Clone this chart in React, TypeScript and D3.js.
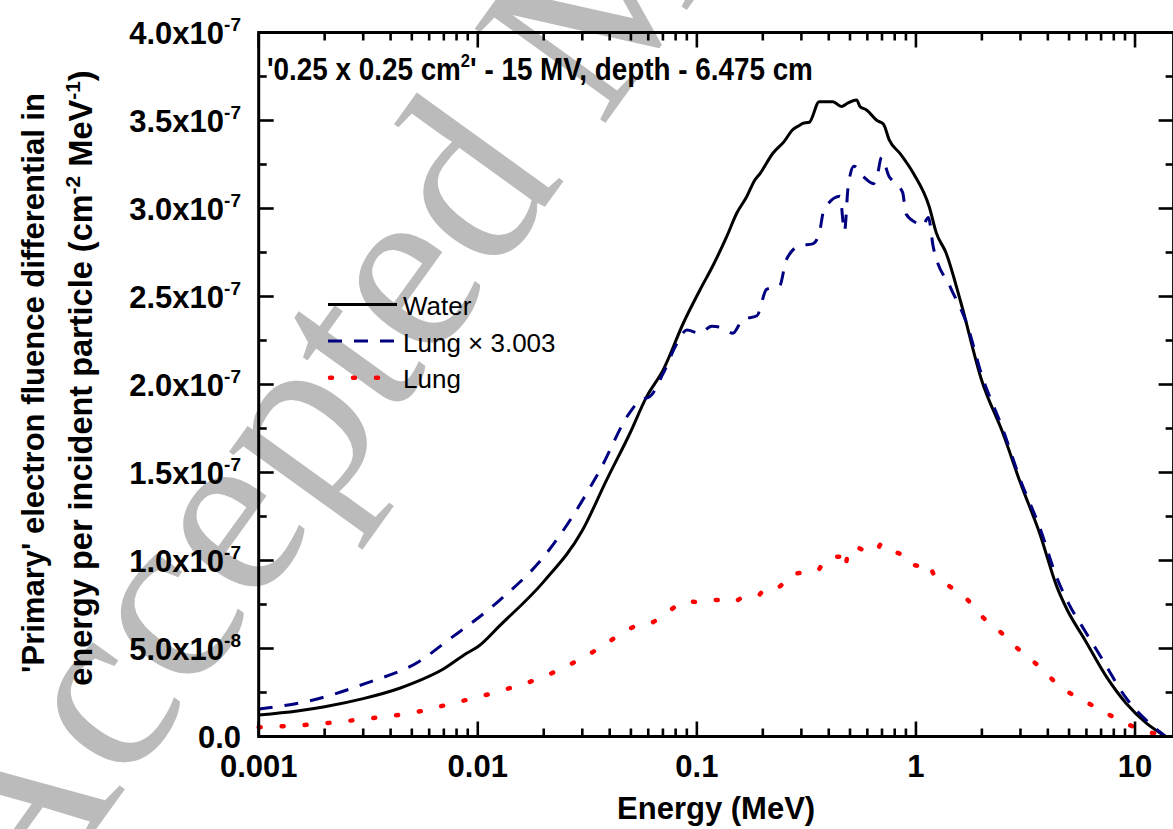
import React from 'react';
import * as d3 from 'd3';

// Water: energy (MeV) and fluence (x1e-7)
const waterEnergy = [0.001, 0.0015, 0.002, 0.003, 0.0044, 0.005, 0.007, 0.0089, 0.01, 0.0126, 0.02, 0.03, 0.0387, 0.0495, 0.059, 0.0702, 0.0867, 0.1033, 0.1188, 0.1368, 0.152, 0.1688, 0.184, 0.1946, 0.2223, 0.25, 0.273, 0.296, 0.304, 0.326, 0.362, 0.418, 0.457, 0.49, 0.536, 0.555, 0.595, 0.664, 0.71, 0.755, 0.849, 0.973, 1.15, 1.24, 1.37, 1.6, 2.0, 2.5, 3.0, 3.67, 4.4, 4.9, 5.9, 7.4, 9.1, 11.3, 13.8];
const waterFluence = [0.122, 0.145, 0.169, 0.215, 0.274, 0.30, 0.385, 0.473, 0.51, 0.63, 0.88, 1.17, 1.457, 1.723, 1.931, 2.083, 2.348, 2.537, 2.679, 2.84, 2.973, 3.067, 3.162, 3.2, 3.314, 3.38, 3.446, 3.474, 3.484, 3.49, 3.607, 3.607, 3.58, 3.6, 3.617, 3.58, 3.56, 3.5, 3.48, 3.39, 3.31, 3.2, 3.01, 2.86, 2.75, 2.47, 2.02, 1.72, 1.44, 1.155, 0.85, 0.72, 0.55, 0.34, 0.189, 0.075, 0.0];

// Lung: energy (MeV) and fluence (x1e-8)
const lungEnergy = [0.001, 0.00177, 0.0031, 0.0054, 0.0072, 0.0126, 0.02, 0.036, 0.0494, 0.055, 0.061, 0.07, 0.081, 0.09, 0.103, 0.117, 0.132, 0.146, 0.162, 0.188, 0.208, 0.239, 0.256, 0.296, 0.338, 0.362, 0.38, 0.45, 0.472, 0.49, 0.521, 0.577, 0.64, 0.664, 0.697, 0.755, 0.78, 0.87, 0.9, 1.0, 1.07, 1.14, 1.2, 1.44, 1.7, 2.0, 2.5, 3.0, 3.67, 4.4, 5.0, 5.9, 7.0, 9.1, 11.3, 13.8];
const lungFluence = [0.52, 0.69, 1.01, 1.42, 1.8, 2.58, 3.4, 5.03, 6.13, 6.36, 6.43, 6.86, 7.43, 7.69, 7.63, 7.76, 7.73, 7.63, 7.89, 7.96, 8.46, 8.53, 9.02, 9.29, 9.32, 9.52, 9.96, 10.22, 9.56, 10.39, 10.79, 10.59, 10.46, 10.59, 10.96, 10.59, 10.52, 10.29, 9.89, 9.72, 9.66, 9.82, 9.26, 8.49, 7.83, 6.83, 5.8, 4.85, 3.96, 3.0, 2.5, 2.0, 1.5, 0.73, 0.3, 0.0];
const lungFactor = 3.003;

const yTickValues = [0, 0.5e-7, 1.0e-7, 1.5e-7, 2.0e-7, 2.5e-7, 3.0e-7, 3.5e-7, 4.0e-7];
const yTickMantissa = ['0.0', '5.0x10', '1.0x10', '1.5x10', '2.0x10', '2.5x10', '3.0x10', '3.5x10', '4.0x10'];
const yTickExponent = ['', '-8', '-7', '-7', '-7', '-7', '-7', '-7', '-7'];
const xTickValues = [0.001, 0.01, 0.1, 1, 10];
const xTickLabels = ['0.001', '0.01', '0.1', '1', '10'];

const legendLabels = ['Water', 'Lung \u00d7 3.003', 'Lung'];

const W = 1173;
const H = 829;
const SANS = 'Arial, "Liberation Sans", sans-serif';

export default function App() {
  const x = d3.scaleLog().domain([0.001, 15]).range([258.7, 1173.6]);
  const y = d3.scaleLinear().domain([0, 4e-7]).range([736.5, 32.5]);
  const left = x.range()[0];
  const right = x.range()[1];
  const top = y.range()[1];
  const bottom = y.range()[0];

  const line = d3
    .line<[number, number]>()
    .x((d) => x(d[0]))
    .y((d) => y(d[1]))
    .curve(d3.curveMonotoneX);

  const waterPts: [number, number][] = waterEnergy.map((e, i) => [e, waterFluence[i] * 1e-7]);
  const lungPts: [number, number][] = lungEnergy.map((e, i) => [e, lungFluence[i] * 1e-8]);
  const lungScaledPts: [number, number][] = lungEnergy.map((e, i) => [e, lungFluence[i] * 1e-8 * lungFactor]);

  const minorX: number[] = [];
  for (const dec of [0.001, 0.01, 0.1, 1, 10]) {
    for (let k = 2; k <= 9; k++) {
      const v = dec * k;
      if (v <= 15) minorX.push(v);
    }
  }
  const minorY = yTickValues.slice(0, -1).map((v) => v + 0.25e-7);

  const major = 15;
  const minor = 8;
  const tw = 2.6;

  return (
    <svg width={W} height={H} style={{ position: 'absolute', left: 0, top: 0, background: '#fff' }}>
      <rect x={0} y={0} width={W} height={H} fill="#fff" />
      {/* watermark */}
      <text
        transform="translate(22,932) rotate(-54.2)"
        fontFamily='"Liberation Serif", "Times New Roman", serif'
        fontSize={246}
        fill="#bbbbbb"
      >
        Accepted Manuscript
      </text>

      {/* curves */}
      <path d={line(waterPts) || ''} fill="none" stroke="#000" strokeWidth={3} />
      <path d={line(lungScaledPts) || ''} fill="none" stroke="#000080" strokeWidth={3} strokeDasharray="14,12" />
      <path
        d={line(lungPts) || ''}
        fill="none"
        stroke="#ff0000"
        strokeWidth={4.5}
        strokeDasharray="2,21"
        strokeLinecap="round"
      />

      {/* frame */}
      <rect x={left} y={top} width={right - left} height={bottom - top} fill="none" stroke="#000" strokeWidth={3} />

      {/* x ticks */}
      {xTickValues.map((v) => (
        <g key={'xt' + v}>
          <line x1={x(v)} x2={x(v)} y1={bottom} y2={bottom - major} stroke="#000" strokeWidth={tw} />
          <line x1={x(v)} x2={x(v)} y1={top} y2={top + major} stroke="#000" strokeWidth={tw} />
        </g>
      ))}
      {minorX.map((v) => (
        <g key={'xm' + v}>
          <line x1={x(v)} x2={x(v)} y1={bottom} y2={bottom - minor} stroke="#000" strokeWidth={tw} />
          <line x1={x(v)} x2={x(v)} y1={top} y2={top + minor} stroke="#000" strokeWidth={tw} />
        </g>
      ))}
      {/* y ticks */}
      {yTickValues.map((v) => (
        <g key={'yt' + v}>
          <line x1={left} x2={left + major} y1={y(v)} y2={y(v)} stroke="#000" strokeWidth={tw} />
          <line x1={right} x2={right - major} y1={y(v)} y2={y(v)} stroke="#000" strokeWidth={tw} />
        </g>
      ))}
      {minorY.map((v) => (
        <g key={'ym' + v}>
          <line x1={left} x2={left + minor} y1={y(v)} y2={y(v)} stroke="#000" strokeWidth={tw} />
          <line x1={right} x2={right - minor} y1={y(v)} y2={y(v)} stroke="#000" strokeWidth={tw} />
        </g>
      ))}

      {/* x tick labels */}
      {xTickValues.map((v, i) => (
        <text key={'xl' + v} x={x(v)} y={777} textAnchor="middle" fontFamily={SANS} fontWeight="bold" fontSize={31}>
          {xTickLabels[i]}
        </text>
      ))}
      {/* y tick labels */}
      {yTickValues.map((v, i) => (
        <text key={'yl' + v} x={241} y={y(v) + 11} textAnchor="end" fontFamily={SANS} fontWeight="bold" fontSize={31}>
          {yTickMantissa[i]}
          {yTickExponent[i] ? (
            <tspan dy={-13} fontSize={19}>
              {yTickExponent[i]}
            </tspan>
          ) : null}
        </text>
      ))}

      {/* axis titles */}
      <text x={(left + right) / 2} y={819} textAnchor="middle" fontFamily={SANS} fontWeight="bold" fontSize={31}>
        Energy (MeV)
      </text>
      <text
        transform="translate(44,383) rotate(-90)"
        textAnchor="middle"
        fontFamily={SANS}
        fontWeight="bold"
        fontSize={31}
      >
        'Primary' electron fluence differential in
      </text>
      <text
        transform="translate(92,378) rotate(-90)"
        textAnchor="middle"
        fontFamily={SANS}
        fontWeight="bold"
        fontSize={32.5}
      >
        energy per incident particle (cm
        <tspan dy={-12} fontSize={21}>-2</tspan>
        <tspan dy={12}> MeV</tspan>
        <tspan dy={-12} fontSize={21}>-1</tspan>
        <tspan dy={12}>)</tspan>
      </text>

      {/* annotation */}
      <text
        transform="translate(267,80) scale(0.87,1)"
        fontFamily={SANS}
        fontWeight="bold"
        fontSize={32}
      >
        '0.25 x 0.25 cm
        <tspan dy={-13} fontSize={19}>2</tspan>
        <tspan dy={13}>' - 15 MV, depth - 6.475 cm</tspan>
      </text>

      {/* legend */}
      <line x1={328} x2={397} y1={304.5} y2={304.5} stroke="#000" strokeWidth={3} />
      <line x1={328} x2={397} y1={341} y2={341} stroke="#000080" strokeWidth={3} strokeDasharray="14,12" />
      <line
        x1={330}
        x2={397}
        y1={377.7}
        y2={377.7}
        stroke="#ff0000"
        strokeWidth={4.5}
        strokeDasharray="2,21"
        strokeLinecap="round"
      />
      {legendLabels.map((t, i) => (
        <text key={t} x={403} y={315 + i * 36.7} fontFamily={SANS} fontSize={26}>
          {t}
        </text>
      ))}
    </svg>
  );
}
